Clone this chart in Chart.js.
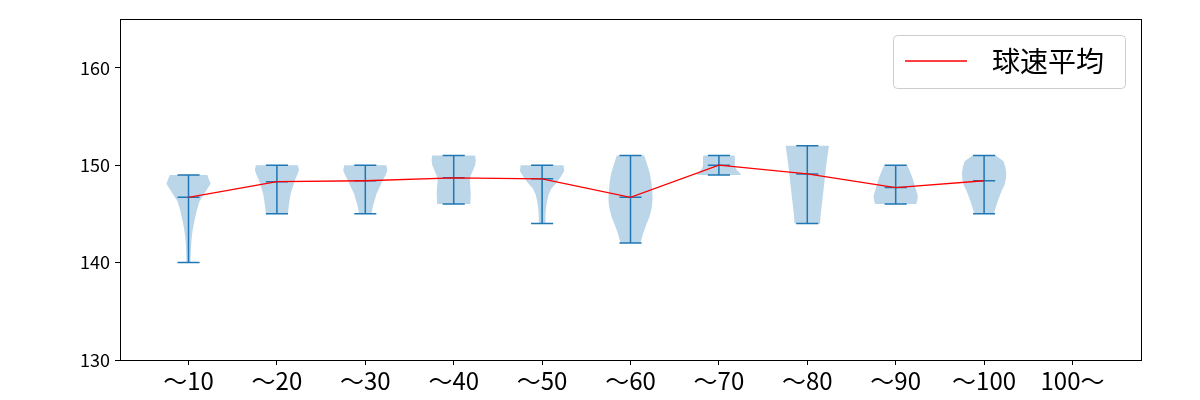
<!DOCTYPE html>
<html>
<head>
<meta charset="utf-8">
<script src="https://cdn.jsdelivr.net/npm/chart.js@4"></script>
<style>
  html, body { margin: 0; padding: 0; background: #fff; }
</style>
</head>
<body>
<canvas id="speedChart" width="1200" height="400"></canvas>
<script>
const categories = ['～10', '～20', '～30', '～40', '～50', '～60', '～70', '～80', '～90', '～100', '100～'];
const yTicks = [130, 140, 150, 160];

// per-category ball speed stats (km/h)
const speedMeans = [146.7, 148.3, 148.4, 148.7, 148.6, 146.7, 150.0, 149.1, 147.7, 148.4];
const speedMins = [140, 145, 145, 146, 144, 142, 149, 144, 146, 145];
const speedMaxs = [149, 150, 150, 151, 150, 151, 151, 152, 150, 151];

// violin half-widths (relative), sampled evenly from min up to max
const violinWidths = [
    [0.09, 0.10, 0.12, 0.15, 0.21, 0.29, 0.38, 0.50, 0.75, 1.00, 0.85],
    [0.50, 0.52, 0.55, 0.58, 0.62, 0.68, 0.75, 0.82, 0.92, 1.00, 0.95],
    [0.28, 0.32, 0.37, 0.44, 0.50, 0.60, 0.70, 0.80, 0.92, 1.00, 0.95],
    [0.75, 0.76, 0.77, 0.76, 0.74, 0.73, 0.78, 0.88, 0.97, 1.00, 0.97],
    [0.15, 0.15, 0.16, 0.19, 0.23, 0.30, 0.42, 0.65, 0.85, 1.00, 0.97],
    [0.45, 0.56, 0.70, 0.86, 0.96, 1.00, 0.98, 0.94, 0.87, 0.75, 0.62],
    [1.00, 0.95, 0.85, 0.78, 0.74, 0.72, 0.72, 0.72, 0.72, 0.72, 0.70],
    [0.58, 0.60, 0.64, 0.68, 0.72, 0.76, 0.80, 0.84, 0.88, 0.93, 0.98],
    [0.93, 0.98, 1.00, 0.96, 0.90, 0.85, 0.80, 0.74, 0.67, 0.60, 0.52],
    [0.44, 0.52, 0.60, 0.70, 0.80, 0.93, 0.99, 1.00, 0.96, 0.88, 0.53]
];

const BLUE = '#1f77b4';
const VIOLIN_HALF = 0.25;   // in x units
const CAP_HALF = 0.125;

const violinPlugin = {
    id: 'violins',
    beforeDatasetsDraw(chart) {
        const ctx = chart.ctx;
        const xs = chart.scales.x, ys = chart.scales.y;
        ctx.save();
        // bodies
        violinWidths.forEach(function (w, i) {
            const pos = i + 1;
            const lo = speedMins[i], hi = speedMaxs[i];
            const n = w.length - 1;
            ctx.beginPath();
            for (let k = 0; k <= n; k++) {
                const v = lo + (hi - lo) * k / n;
                const px = xs.getPixelForValue(pos + w[k] * VIOLIN_HALF);
                const py = ys.getPixelForValue(v);
                if (k === 0) ctx.moveTo(px, py); else ctx.lineTo(px, py);
            }
            for (let k = n; k >= 0; k--) {
                const v = lo + (hi - lo) * k / n;
                ctx.lineTo(xs.getPixelForValue(pos - w[k] * VIOLIN_HALF), ys.getPixelForValue(v));
            }
            ctx.closePath();
            ctx.fillStyle = 'rgba(31,119,180,0.3)';
            ctx.fill();
        });
        // min / max / mean lines
        ctx.strokeStyle = BLUE;
        ctx.lineWidth = 1.5;
        speedMeans.forEach(function (m, i) {
            const pos = i + 1;
            const cx = xs.getPixelForValue(pos);
            const x0 = xs.getPixelForValue(pos - CAP_HALF);
            const x1 = xs.getPixelForValue(pos + CAP_HALF);
            ctx.beginPath();
            ctx.moveTo(cx, ys.getPixelForValue(speedMins[i]));
            ctx.lineTo(cx, ys.getPixelForValue(speedMaxs[i]));
            [speedMins[i], speedMaxs[i], m].forEach(function (v) {
                const py = ys.getPixelForValue(v);
                ctx.moveTo(x0, py);
                ctx.lineTo(x1, py);
            });
            ctx.stroke();
        });
        ctx.restore();
    },
    afterDraw(chart) {
        const ctx = chart.ctx;
        const a = chart.chartArea;
        ctx.save();
        // frame
        ctx.strokeStyle = '#000';
        ctx.lineWidth = 1;
        ctx.strokeRect(a.left + 0.5, a.top + 0.5, a.right - a.left, a.bottom - a.top);
        // legend box
        const bx = 893.5, by = 35.5, bw = 232, bh = 53, r = 4;
        ctx.beginPath();
        ctx.roundRect(bx, by, bw, bh, r);
        ctx.fillStyle = 'rgba(255,255,255,0.8)';
        ctx.fill();
        ctx.strokeStyle = '#cccccc';
        ctx.stroke();
        ctx.beginPath();
        ctx.moveTo(905, 61);
        ctx.lineTo(967, 61);
        ctx.strokeStyle = 'red';
        ctx.lineWidth = 1.5;
        ctx.stroke();
        ctx.fillStyle = '#000';
        ctx.font = '28px "Noto Sans CJK JP"';
        ctx.textBaseline = 'middle';
        ctx.fillText(chart.data.datasets[0].label, 992, 61);
        ctx.restore();
    }
};

new Chart(document.getElementById('speedChart').getContext('2d'), {
    type: 'line',
    data: {
        datasets: [{
            label: '球速平均',
            data: speedMeans.map(function (m, i) { return { x: i + 1, y: m }; }),
            borderColor: 'red',
            borderWidth: 1.3,
            pointRadius: 0,
            fill: false,
            tension: 0
        }]
    },
    options: {
        responsive: false,
        animation: false,
        layout: { padding: { top: 19, right: 59, left: 0, bottom: 0 } },
        plugins: {
            legend: { display: false },
            tooltip: { enabled: false }
        },
        scales: {
            x: {
                type: 'linear',
                min: 0.225,
                max: 11.775,
                afterBuildTicks: function (scale) {
                    scale.ticks = categories.map(function (c, i) { return { value: i + 1 }; });
                },
                afterFit: function (scale) { scale.height = 40; },
                grid: { drawOnChartArea: false, tickLength: 5, color: '#000', tickWidth: 1 },
                border: { display: true, color: '#000' },
                ticks: {
                    color: '#000',
                    padding: 1,
                    maxRotation: 0,
                    autoSkip: false,
                    font: { family: '"Noto Sans CJK JP"', size: 24 },
                    callback: function (v) { return categories[Math.round(v) - 1]; }
                }
            },
            y: {
                min: 130,
                max: 165,
                afterBuildTicks: function (scale) {
                    scale.ticks = yTicks.map(function (t) { return { value: t }; });
                },
                afterFit: function (scale) { scale.width = 120; },
                grid: { drawOnChartArea: false, tickLength: 5, color: '#000', tickWidth: 1 },
                border: { display: true, color: '#000' },
                ticks: {
                    color: '#000',
                    padding: 5,
                    font: { family: '"Noto Sans CJK JP"', size: 18 }
                }
            }
        }
    },
    plugins: [violinPlugin]
});
</script>
</body>
</html>
